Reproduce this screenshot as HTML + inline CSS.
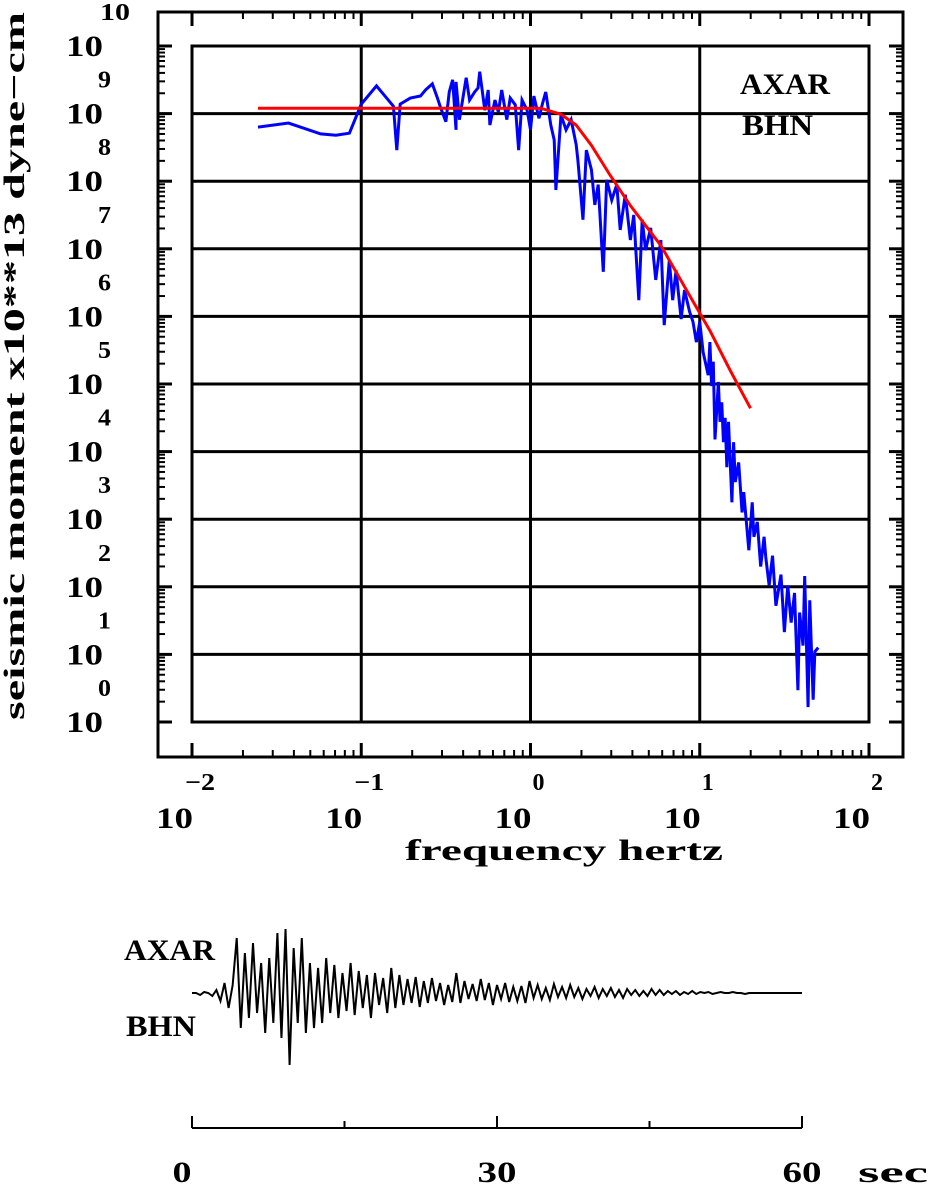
<!DOCTYPE html>
<html><head><meta charset="utf-8">
<style>
html,body{margin:0;padding:0;background:#fff;}
svg{display:block;font-family:"Liberation Serif",serif;font-weight:bold;}
</style></head>
<body>
<svg id="chart" width="928" height="1184" viewBox="0 0 928 1184" xmlns="http://www.w3.org/2000/svg">
<g id="frame"></g>
<g id="grid"></g>
<g id="ticks"></g>
<g id="labels"></g>
<g id="series"></g>
<text transform="translate(24,366) rotate(-90)" text-anchor="middle" font-size="30" fill="#000" textLength="708" lengthAdjust="spacingAndGlyphs">seismic moment x10**13 dyne−cm</text>
<text x="405" y="860" font-size="30" fill="#000" textLength="318" lengthAdjust="spacingAndGlyphs">frequency  hertz</text>
<text x="740" y="94" font-size="30" fill="#000" textLength="90" lengthAdjust="spacingAndGlyphs">AXAR</text>
<text x="742" y="135" font-size="30" fill="#000" textLength="71" lengthAdjust="spacingAndGlyphs">BHN</text>
<text x="124" y="960" font-size="30" fill="#000" textLength="91" lengthAdjust="spacingAndGlyphs">AXAR</text>
<text x="126" y="1036" font-size="30" fill="#000" textLength="70" lengthAdjust="spacingAndGlyphs">BHN</text>
<g id="wave"></g>
</svg>
<script>
// spectrum data: log10 frequency (Hz), log10 moment
const specLogF = [-1.61,-1.43,-1.24,-1.15,-1.07,-1.00,-0.91,-0.85,-0.81,-0.79,-0.77,-0.71,-0.65,-0.62,-0.58,-0.55,-0.53,-0.50,-0.48,-0.46,-0.44,-0.44,-0.42,-0.38,-0.36,-0.33,-0.31,-0.30,-0.27,-0.25,-0.24,-0.21,-0.19,-0.17,-0.14,-0.12,-0.09,-0.07,-0.05,-0.02,0.00,0.02,0.05,0.07,0.09,0.12,0.14,0.15,0.18,0.21,0.24,0.27,0.28,0.31,0.33,0.36,0.38,0.40,0.43,0.45,0.48,0.51,0.53,0.56,0.59,0.61,0.64,0.66,0.68,0.71,0.74,0.77,0.79,0.82,0.84,0.86,0.89,0.91,0.94,0.96,0.98,1.00,1.02,1.05,1.06,1.07,1.08,1.09,1.11,1.12,1.13,1.14,1.15,1.16,1.17,1.19,1.20,1.21,1.23,1.25,1.26,1.29,1.31,1.32,1.34,1.36,1.38,1.39,1.41,1.43,1.45,1.48,1.50,1.52,1.54,1.56,1.58,1.59,1.61,1.62,1.64,1.65,1.67,1.68,1.70];
const specLogM = [8.80,8.86,8.70,8.68,8.71,9.14,9.41,9.23,9.11,8.46,9.14,9.23,9.26,9.35,9.44,9.23,9.08,8.88,9.32,9.50,8.76,9.47,8.91,9.53,9.20,9.32,9.38,9.62,9.05,9.35,8.83,9.20,9.02,9.35,8.91,9.23,9.13,8.46,9.20,9.05,8.76,9.26,8.93,9.14,9.32,8.83,8.61,7.87,8.98,8.76,8.91,8.54,8.31,7.43,8.46,8.17,7.65,7.95,6.66,8.02,7.72,7.95,7.28,7.80,7.13,7.50,6.24,7.43,6.98,7.31,6.54,7.13,5.87,6.83,6.24,6.68,5.96,6.39,6.07,5.92,5.62,5.92,5.47,5.13,5.62,4.97,5.33,4.18,5.03,4.44,4.73,4.14,4.50,3.77,4.44,3.25,4.14,3.55,3.84,3.10,3.40,2.54,3.25,2.74,2.96,2.30,2.74,2.44,2.02,2.46,1.72,2.18,1.33,2.02,1.47,1.91,0.47,1.62,1.13,2.16,0.22,1.80,0.33,1.04,1.10];
const fitLogF = [-1.61,0.06,0.18,0.27,0.36,0.47,0.59,0.77,0.94,1.06,1.18,1.30];
const fitLogM = [9.08,9.08,8.99,8.83,8.53,8.09,7.64,7.05,6.31,5.79,5.20,4.64];
// waveform samples (0.4 s spacing), relative amplitude
const waveAmp = [0,0,-2,1,0,-3,3,-8,10,-15,8,55,-35,40,-25,50,-20,30,-40,35,-30,60,-45,64,-72,45,-30,55,-40,30,-35,25,-30,35,-20,28,-25,20,-18,30,-22,22,-15,18,-25,20,-12,15,-20,25,-15,18,-12,14,-10,16,-14,12,-10,15,-8,10,-12,8,-9,20,-10,12,-6,9,-8,14,-7,10,-12,8,-6,10,-9,6,-8,7,-10,12,-5,8,-6,5,-7,9,-4,6,-5,8,-4,5,-6,4,-3,6,-5,4,-3,5,-4,3,-5,4,-2,3,-3,2,-3,4,-2,3,-2,2,-1,2,-2,1,-1,2,-1,1,0,1,-1,0,1,0,0,1,0,0,-1,0,0,0,0,0,0,0,0,0,0,0,0,0,0];
const xDecades = [-2,-1,0,1,2];
const yDecades = [0,1,2,3,4,5,6,7,8,9,10];
const timeTicks = [0,15,30,45,60];
const timeLabels = [0,30,60];

const NS='http://www.w3.org/2000/svg';
function mk(tag,attrs,parent){const e=document.createElementNS(NS,tag);for(const k in attrs)e.setAttribute(k,attrs[k]);parent.appendChild(e);return e;}
const X0=192,X1=869,Y0=46,Y1=722;
const xs=v=>X0+(v+2)*(X1-X0)/4;
const ys=v=>Y1-v*(Y1-Y0)/10;
const frame=document.getElementById('frame'),grid=document.getElementById('grid'),ticks=document.getElementById('ticks'),labels=document.getElementById('labels'),series=document.getElementById('series'),wave=document.getElementById('wave');
let r=mk('rect',{x:158,y:12,width:745,height:745,fill:'none',stroke:'#000','stroke-width':3},frame);


r=mk('rect',{x:X0,y:Y0,width:X1-X0,height:Y1-Y0,fill:'none',stroke:'#000','stroke-width':3},frame);


xDecades.forEach(d=>{
  const x=xs(d);
  let l=mk('line',{x1:x,y1:Y0,x2:x,y2:Y1,stroke:'#000','stroke-width':3},grid);
  
  
  mk('line',{x1:x,y1:12,x2:x,y2:26,stroke:'#000','stroke-width':3},ticks);
  mk('line',{x1:x,y1:757,x2:x,y2:743,stroke:'#000','stroke-width':3},ticks);
  if(d<2){for(let m=2;m<10;m++){const xm=x+Math.log10(m)*(X1-X0)/4;
    mk('line',{x1:xm,y1:12,x2:xm,y2:19,stroke:'#000','stroke-width':2},ticks);
    mk('line',{x1:xm,y1:757,x2:xm,y2:750,stroke:'#000','stroke-width':2},ticks);}}
  let t=mk('text',{x:x-36,y:828,'font-size':30,textLength:37,lengthAdjust:'spacingAndGlyphs'},labels);t.textContent='10';
  
  
  t=mk('text',{x:x+8,y:790,'text-anchor':'middle','font-size':24,textLength:d<0?30:12,lengthAdjust:'spacingAndGlyphs'},labels);t.textContent=d<0?'−'+(-d):String(d);
  
  
});
yDecades.forEach(d=>{
  const y=ys(d);
  let l=mk('line',{x1:X0,y1:y,x2:X1,y2:y,stroke:'#000','stroke-width':3},grid);
  
  
  mk('line',{x1:158,y1:y,x2:172,y2:y,stroke:'#000','stroke-width':3},ticks);
  mk('line',{x1:903,y1:y,x2:889,y2:y,stroke:'#000','stroke-width':3},ticks);
  if(d<10){for(let m=2;m<10;m++){const ym=y-Math.log10(m)*(Y1-Y0)/10;
    mk('line',{x1:158,y1:ym,x2:165,y2:ym,stroke:'#000','stroke-width':2},ticks);
    mk('line',{x1:903,y1:ym,x2:896,y2:ym,stroke:'#000','stroke-width':2},ticks);}}
  let t=mk('text',{x:66,y:y+10,'font-size':30,textLength:37,lengthAdjust:'spacingAndGlyphs'},labels);t.textContent='10';
  
  
  t=mk('text',{x:d==10?100:98,y:y-26,'font-size':24,textLength:d==10?30:13,lengthAdjust:'spacingAndGlyphs'},labels);t.textContent=String(d);
  
  
});
let p=mk('polyline',{points:specLogF.map((f,i)=>xs(f)+','+ys(specLogM[i])).join(' '),fill:'none',stroke:'#0000ff','stroke-width':3},series);


p=mk('polyline',{points:fitLogF.map((f,i)=>xs(f)+','+ys(fitLogM[i])).join(' '),fill:'none',stroke:'#ff0000','stroke-width':3},series);


// waveform
const T0=192,T1=802,WB=993;
const ts=t=>T0+t*(T1-T0)/60;
p=mk('polyline',{points:waveAmp.map((a,i)=>ts(i*0.4)+','+(WB-a)).join(' '),fill:'none',stroke:'#000','stroke-width':2},wave);


let l=mk('line',{x1:T0,y1:1128,x2:T1,y2:1128,stroke:'#000','stroke-width':2},wave);


timeTicks.forEach(t=>{const big=timeLabels.includes(t);mk('line',{x1:ts(t),y1:1128,x2:ts(t),y2:big?1116:1121,stroke:'#000','stroke-width':2},wave);});
timeLabels.forEach(t=>{let e=mk('text',{x:ts(t)-(t==0?10:0),y:1182,'text-anchor':'middle','font-size':30,textLength:t==0?19:39,lengthAdjust:'spacingAndGlyphs'},wave);e.textContent=String(t);
  
  });
let s=mk('text',{x:858,y:1182,'font-size':30,textLength:70,lengthAdjust:'spacingAndGlyphs'},wave);s.textContent='sec';


</script>
</body></html>
